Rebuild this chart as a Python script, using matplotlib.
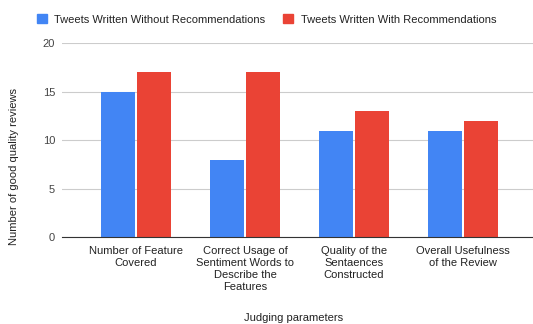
import numpy as np
import matplotlib
matplotlib.use('Agg')
import matplotlib.pyplot as plt
from matplotlib.patches import Patch

categories = ['Number of Feature\nCovered',
              'Correct Usage of\nSentiment Words to\nDescribe the\nFeatures',
              'Quality of the\nSentaences\nConstructed',
              'Overall Usefulness\nof the Review']
without_rec = [15, 8, 11, 11]
with_rec = [17, 17, 13, 12]
series_names = ['Tweets Written Without Recommendations', 'Tweets Written With Recommendations']
blue = '#4285F4'
red = '#EA4335'

plt.rcParams['font.family'] = ['Liberation Sans', 'DejaVu Sans']

fig = plt.figure(figsize=(5.33, 3.24), dpi=100)
ax = fig.add_axes([0.1163, 0.2676, 0.8912, 0.5988])

x = np.arange(len(categories))
w = 0.31
ax.bar(x - w / 2 - 0.01, without_rec, w, color=blue, linewidth=0)
ax.bar(x + w / 2 + 0.01, with_rec, w, color=red, linewidth=0)

ax.set_xlim(-0.68, 3.68)
ax.set_ylim(0, 20)
ax.set_yticks([0, 5, 10, 15, 20])
ax.set_xticks(x)
ax.set_xticklabels(categories, fontsize=8, color='#222222', linespacing=1.25)
ax.tick_params(axis='y', labelsize=8, labelcolor='#444444', length=0, pad=5)
ax.tick_params(axis='x', length=0, pad=6)
ax.grid(axis='y', color='#cccccc', linewidth=0.8)
ax.set_axisbelow(True)
for s in ['top', 'right', 'left']:
    ax.spines[s].set_visible(False)
ax.spines['bottom'].set_color('#333333')
ax.spines['bottom'].set_linewidth(0.8)

fig.text(0.026, 0.485, 'Number of good quality reviews', rotation=90,
         ha='center', va='center', fontsize=8, color='#222222')
fig.text(0.55, 0.02, 'Judging parameters', ha='center', va='center',
         fontsize=8, color='#222222')

handles = [Patch(color=blue), Patch(color=red)]
fig.legend(handles, series_names, loc='center', bbox_to_anchor=(0.5, 0.94),
           ncol=2, frameon=False, fontsize=8, handlelength=0.9, handleheight=0.9,
           handletextpad=0.7, columnspacing=1.6, labelcolor='#222222')

fig.savefig('out.png', dpi=100)
